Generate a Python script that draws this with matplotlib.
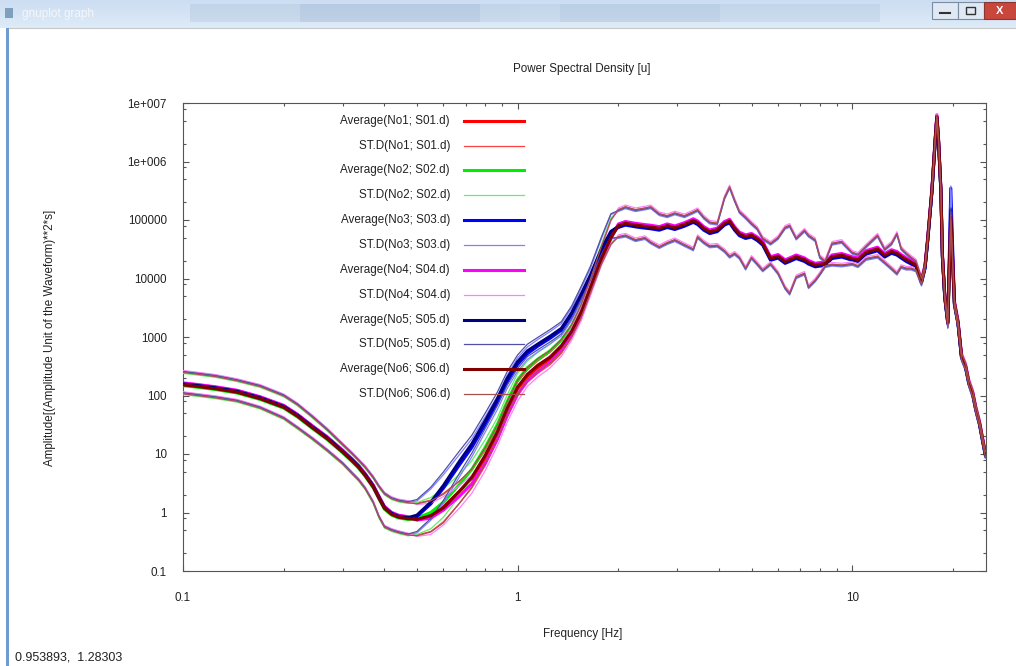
import numpy as np
import matplotlib
matplotlib.use('Agg')
import matplotlib.pyplot as plt
from matplotlib.patches import Rectangle
from matplotlib.lines import Line2D
from matplotlib.ticker import FixedLocator, FixedFormatter, NullFormatter

plt.rcParams['font.family'] = ['Liberation Sans', 'DejaVu Sans']

W, H = 1016, 666

# --- spectra ---------------------------------------------------------------
# low band, same shape for every station
f_low = [0.1, 0.11, 0.125, 0.145, 0.17, 0.2, 0.22, 0.243, 0.27, 0.3, 0.32, 0.335,
         0.35, 0.37, 0.385, 0.4, 0.42, 0.44, 0.47]
avg_low = [155, 146, 133, 116, 90, 64, 45, 29, 18.5, 11, 7.8, 6.0,
           4.4, 2.8, 1.8, 1.2, 0.95, 0.85, 0.8]
up_low = [252, 236, 215, 182, 145, 100, 70, 44, 26, 14.5, 10.2, 7.8,
          6.0, 4.0, 2.8, 2.1, 1.75, 1.6, 1.5]
dn_low = [109, 102, 93, 81, 62, 41, 28, 18.5, 11.5, 6.9, 4.7, 3.6,
          2.6, 1.5, 0.85, 0.57, 0.5, 0.46, 0.42]

# transition band, stations split apart here
f_mid = [0.5, 0.55, 0.6, 0.67, 0.73, 0.8, 0.87, 0.93, 1.0, 1.07, 1.15, 1.25,
         1.35, 1.45, 1.55, 1.65, 1.78, 1.9]
avg_mid_no1 = [0.78, 0.9, 1.25, 2.3, 3.8, 8.5, 22, 55, 130, 210, 300, 420,
               650, 1200, 2600, 6800, 22000, 50000]
avg_mid_no2 = [0.8, 1.0, 1.5, 3.0, 5.5, 13, 32, 78, 185, 300, 420, 580,
               880, 1550, 3300, 8000, 24000, 54000]
avg_mid_no3 = [0.85, 1.4, 2.6, 6.5, 13, 32, 75, 170, 340, 520, 700, 950,
               1300, 2400, 5100, 10500, 30000, 62000]
avg_mid_no4 = [0.74, 0.8, 1.1, 1.9, 3.1, 7.0, 18, 45, 105, 180, 260, 370,
               580, 1100, 2400, 6300, 21000, 48000]
avg_mid_no5 = [0.9, 1.5, 2.9, 7.5, 15, 37, 88, 195, 380, 580, 760, 1030,
               1400, 2600, 5500, 11500, 32000, 64000]
avg_mid_no6 = [0.76, 0.88, 1.2, 2.3, 4.0, 9.5, 24, 60, 140, 230, 330, 450,
               700, 1250, 2700, 7000, 22000, 50000]
mid_up = [1.85, 1.8, 1.7, 1.5, 1.4, 1.35, 1.3, 1.3, 1.3, 1.3, 1.3, 1.3,
          1.3, 1.3, 1.35, 1.4, 1.6, 2.0]
mid_dn = [1.9, 1.9, 1.8, 1.6, 1.45, 1.35, 1.3, 1.3, 1.3, 1.25, 1.25, 1.25,
          1.25, 1.25, 1.25, 1.25, 1.25, 1.3]

# high band
f_high = [2.0, 2.1, 2.25, 2.4, 2.5, 2.65, 2.8, 2.95, 3.15, 3.35, 3.45, 3.6,
          3.75, 3.95, 4.15, 4.3, 4.45, 4.6, 4.8, 5.0, 5.2, 5.4, 5.7, 6.0,
          6.3, 6.5, 6.8, 7.2, 7.4, 7.75, 8.0, 8.3, 8.7, 9.3, 10.0, 10.4,
          11.0, 11.9, 12.5, 13.1, 13.6, 14.0, 14.5, 15.0, 15.5, 16.1, 16.5, 16.8,
          17.3, 17.7, 17.9, 18.1, 18.4, 18.6, 18.9, 19.3, 19.7, 20.2, 20.7, 21.2,
          21.8, 22.3, 22.9, 23.4, 24.0, 24.6, 25.0]
avg_high = [80000, 88000, 82000, 78000, 76000, 72000, 80000, 74000, 84000, 98000, 90000, 72000,
            63000, 68000, 88000, 96000, 72000, 58000, 52000, 55000, 48000, 40000, 22000, 24000,
            19500, 21000, 23600, 21000, 19000, 17000, 17500, 18000, 23600, 25000, 22000, 21000,
            28000, 32000, 25000, 29000, 27000, 24000, 21000, 19000, 17000, 9000, 16000, 46000,
            320000, 2.4e6, 5.9e6, 2.4e6, 330000, 24000, 5000, 1800, 110000, 3800, 1800, 480,
            320, 170, 110, 60, 34, 16, 10]
up_high = [150000, 168000, 150000, 160000, 168000, 128000, 118000, 132000, 118000, 138000, 150000, 112000,
           92000, 88000, 240000, 370000, 220000, 140000, 112000, 88000, 72000, 49000, 40000, 50000,
           75000, 81000, 49000, 67000, 55000, 46000, 23600, 20000, 40000, 43000, 28000, 26000,
           36000, 55000, 32000, 40000, 59000, 33000, 27000, 23000, 20000, 10000, 17500, 50000,
           340000, 2.6e6, 6.2e6, 2.6e6, 350000, 26000, 5500, 2000, 120000, 4200, 2000, 540,
           360, 190, 125, 68, 38, 18, 11]
dn_high = [52000, 55000, 46000, 50000, 42000, 35000, 41000, 46000, 38000, 32000, 52000, 42000,
           36000, 37000, 30000, 24000, 27000, 23000, 15000, 23000, 18000, 14000, 18000, 12500,
           7000, 5600, 10700, 12300, 7200, 9400, 12000, 16500, 17500, 17000, 18000, 16500,
           22000, 24000, 19000, 15000, 12300, 16000, 15000, 15000, 14000, 8000, 14500, 42000,
           300000, 2.2e6, 5.5e6, 2.2e6, 300000, 21000, 4400, 1500, 100000, 3300, 1500, 420,
           280, 150, 95, 52, 30, 14, 9]

stations = ['No1; S01.d', 'No2; S02.d', 'No3; S03.d', 'No4; S04.d', 'No5; S05.d', 'No6; S06.d']
avg_mid = [avg_mid_no1, avg_mid_no2, avg_mid_no3, avg_mid_no4, avg_mid_no5, avg_mid_no6]
low_gain = [1.04, 0.95, 1.0, 1.06, 1.02, 0.98]
high_gain = [1.0, 0.96, 0.93, 1.07, 0.97, 1.0]
peak2 = [90000, 70000, 350000, 130000, 150000, 110000]   # second resonance near 19.7 Hz

avg_colors = ['#ff0000', '#00ee00', '#0000ff', '#ff00ff', '#000080', '#800000']
std_colors = ['#ff4040', '#60f060', '#8080ff', '#ff80ff', '#5050a8', '#a85050']


def px(x, y):
    return x / W, 1 - y / H


fig = plt.figure(figsize=(W / 100, H / 100), dpi=100)
fig.patch.set_facecolor('white')

ax = fig.add_axes([183 / W, 1 - 571 / H, (986 - 183) / W, (571 - 103) / H])

freq = np.array(f_low + f_mid + f_high)
ipk = f_high.index(19.7)
for i in range(6):
    ah = np.array(avg_high, float) * high_gain[i]
    uh = np.array(up_high, float) * high_gain[i]
    dh = np.array(dn_high, float) * high_gain[i]
    uh[ipk] = peak2[i] * up_high[ipk] / avg_high[ipk]
    dh[ipk] = peak2[i] * dn_high[ipk] / avg_high[ipk]
    ah[ipk] = peak2[i]
    am = np.array(avg_mid[i], float)
    avg = np.concatenate([np.array(avg_low) * low_gain[i], am, ah])
    up = np.concatenate([np.array(up_low) * low_gain[i], am * mid_up, uh])
    dn = np.concatenate([np.array(dn_low) * low_gain[i], am / mid_dn, dh])
    ax.plot(freq, avg, color=avg_colors[i], lw=2.2, zorder=3 + 2 * i)
    ax.plot(freq, up, color=std_colors[i], lw=0.9, zorder=3 + 2 * i + 1)
    ax.plot(freq, dn, color=std_colors[i], lw=0.9, zorder=3 + 2 * i + 1)

ax.set_xscale('log')
ax.set_yscale('log')
ax.set_xlim(0.1, 25.1)
ax.set_ylim(0.1, 1e7)

ax.xaxis.set_major_locator(FixedLocator([0.1, 1, 10]))
ax.xaxis.set_major_formatter(FixedFormatter(['0.1', '1', '10']))
xminor = [m * d for d in (0.1, 1, 10) for m in range(2, 10) if m * d <= 25]
ax.xaxis.set_minor_locator(FixedLocator(xminor))
ax.xaxis.set_minor_formatter(NullFormatter())

ydec = [0.1, 1, 10, 100, 1000, 10000, 100000, 1e6, 1e7]
ylab = ['0.1', '1', '10', '100', '1000', '10000', '100000', '1e+006', '1e+007']
ax.yaxis.set_major_locator(FixedLocator(ydec))
ax.yaxis.set_major_formatter(FixedFormatter(ylab))
yminor = [m * d for d in ydec[:-1] for m in (2, 5, 8)]
ax.yaxis.set_minor_locator(FixedLocator(yminor))
ax.yaxis.set_minor_formatter(NullFormatter())

for s in ax.spines.values():
    s.set_color('#555555')
    s.set_linewidth(0.8)
ax.tick_params(which='both', direction='in', top=True, right=True,
               color='#555555', width=0.8, labelsize=8.4, labelcolor='#222222')
ax.tick_params(which='major', length=4.3)
ax.tick_params(which='minor', length=2.5)
ax.tick_params(axis='x', which='major', pad=15)
ax.tick_params(axis='y', which='major', pad=11.5)

# key, gnuplot style: right-aligned text with a sample line
for k in range(12):
    i = k // 2
    ty = 120.7 + k * 24.85
    if k % 2 == 0:
        lab, col, lw = 'Average(%s)' % stations[i], avg_colors[i], 2.2
    else:
        lab, col, lw = 'ST.D(%s)' % stations[i], std_colors[i], 0.9
    fig.text(*px(450, ty), lab, ha='right', va='center', fontsize=8.4, color='#222222')
    x0, y0 = px(464, ty)
    x1, _ = px(524, ty)
    fig.add_artist(Line2D([x0, x1], [y0, y0], color=col, lw=lw, transform=fig.transFigure, zorder=20))

fig.text(*px(582, 69), 'Power Spectral Density [u]', ha='center', va='center', fontsize=8.4, color='#222222')
fig.text(*px(583, 634), 'Frequency [Hz]', ha='center', va='center', fontsize=8.4, color='#222222')
fig.text(*px(50, 338), 'Amplitude[(Amplitude Unit of the Waveform)**2*s]', ha='center', va='center',
         rotation=90, fontsize=8.4, color='#222222')

# window frame around the plot
tb = fig.add_axes([0, 1 - 28 / H, 1, 28 / H])
grad = np.linspace(0, 1, 28)[:, None]
top_c = np.array([0.80, 0.87, 0.95])
bot_c = np.array([0.87, 0.92, 0.97])
img = (top_c[None, None, :] * (1 - grad[:, :, None]) + bot_c[None, None, :] * grad[:, :, None])
img = np.repeat(img, 4, axis=1)
tb.imshow(img, aspect='auto', extent=[0, W, 28, 0])
for bx0, bx1, a in [(190, 520, 0.12), (300, 480, 0.10), (520, 880, 0.10), (560, 720, 0.08)]:
    tb.add_patch(Rectangle((bx0, 4), bx1 - bx0, 18, color='#5f7fa8', alpha=a, lw=0))
tb.add_patch(Rectangle((5, 8), 8, 10, color='#7f9fbf', lw=0))
tb.text(22, 14, 'gnuplot graph', ha='left', va='center', fontsize=8.5, color='#f4f7fb')
tb.add_patch(Rectangle((932, 2), 26, 17, facecolor='#dfe8f3', edgecolor='#7a8ca3', lw=0.8))
tb.add_patch(Rectangle((958, 2), 26, 17, facecolor='#dfe8f3', edgecolor='#7a8ca3', lw=0.8))
tb.add_patch(Rectangle((984, 2), 32, 17, facecolor='#c9463d', edgecolor='#8a3530', lw=0.8))
tb.plot([940, 950], [13, 13], color='#333333', lw=1.5)
tb.add_patch(Rectangle((966, 7), 9, 7, facecolor='none', edgecolor='#333333', lw=1.0))
tb.text(1000, 10.5, 'X', ha='center', va='center', fontsize=8, color='white', fontweight='bold')
tb.set_xlim(0, W)
tb.set_ylim(28, 0)
tb.axis('off')

fig.add_artist(Rectangle(px(6, 666), 3 / W, (666 - 28) / H, transform=fig.transFigure,
                         color='#6f9bd1', lw=0))
fig.add_artist(Line2D([px(9, 28)[0], 1], [px(0, 28)[1]] * 2, transform=fig.transFigure,
                      color='#c8c8c8', lw=0.8))

fig.text(*px(15, 657), '0.953893,  1.28303', ha='left', va='center', fontsize=9,
         family=['Liberation Sans Narrow', 'Liberation Sans'], color='#222222')

fig.savefig('out.png', dpi=100)
